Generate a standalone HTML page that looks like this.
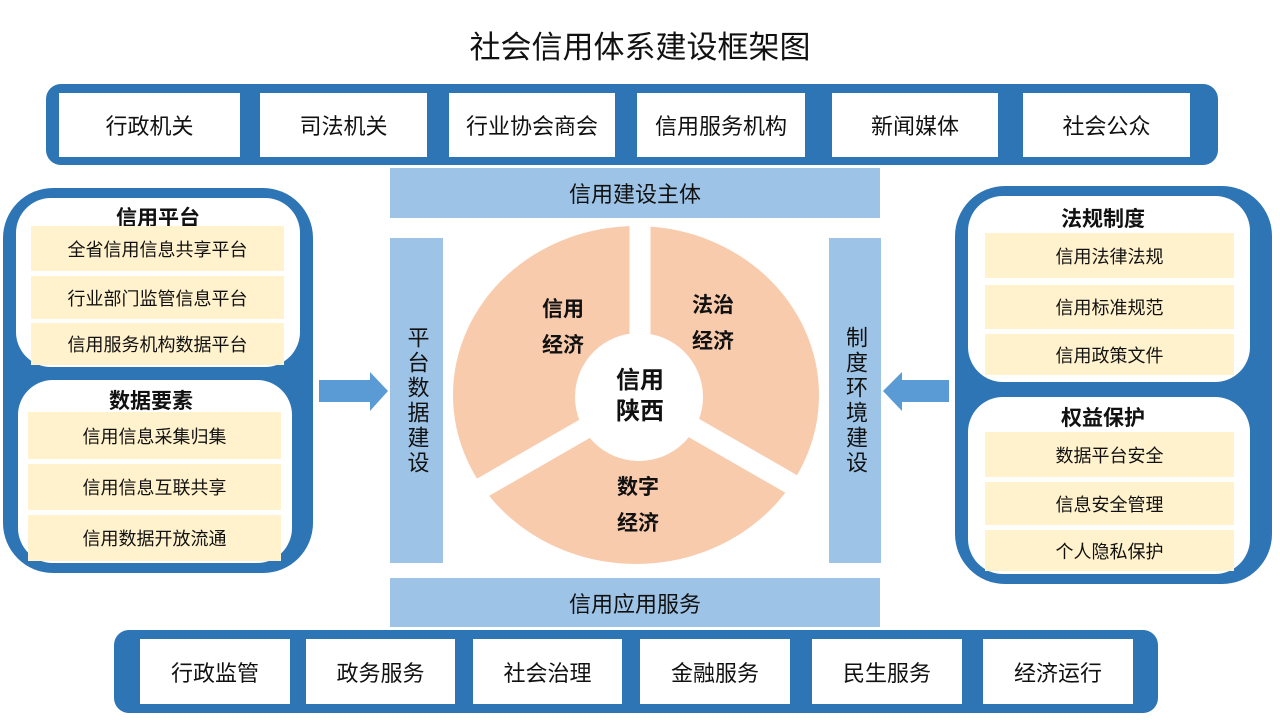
<!DOCTYPE html>
<html><head><meta charset="utf-8"><style>
*{margin:0;padding:0;box-sizing:border-box}
body{width:1280px;height:720px;background:#fff;position:relative;overflow:hidden;font-family:"Liberation Sans","Noto Sans CJK SC",sans-serif;color:#111}
.a{position:absolute}
.blue{background:#2E75B6}
.wb{background:#fff;display:flex;align-items:center;justify-content:center;font-size:22px}
.lb{background:#9DC3E6;display:flex;align-items:center;justify-content:center;font-size:22px}
.y{background:#FFF2CC;display:flex;align-items:center;justify-content:center;font-size:18px}
.t{font-size:21px;font-weight:bold;text-align:center}
.v{writing-mode:vertical-rl;text-orientation:upright;letter-spacing:3px}
</style></head><body>
<div class="a" style="left:0;top:22px;width:1280px;text-align:center;font-size:31px">社会信用体系建设框架图</div>

<div class="a blue" style="left:46px;top:84px;width:1172px;height:81px;border-radius:15px"></div>
<div class="a wb" style="left:59px;top:93px;width:181px;height:64px">行政机关</div>
<div class="a wb" style="left:260px;top:93px;width:167px;height:64px">司法机关</div>
<div class="a wb" style="left:449px;top:93px;width:166px;height:64px">行业协会商会</div>
<div class="a wb" style="left:637px;top:93px;width:168px;height:64px">信用服务机构</div>
<div class="a wb" style="left:832px;top:93px;width:166px;height:64px">新闻媒体</div>
<div class="a wb" style="left:1023px;top:93px;width:167px;height:64px">社会公众</div>

<div class="a blue" style="left:114px;top:630px;width:1044px;height:83px;border-radius:15px"></div>
<div class="a wb" style="left:140px;top:639px;width:150px;height:65px">行政监管</div>
<div class="a wb" style="left:306px;top:639px;width:149px;height:65px">政务服务</div>
<div class="a wb" style="left:473px;top:639px;width:149px;height:65px">社会治理</div>
<div class="a wb" style="left:640px;top:639px;width:150px;height:65px">金融服务</div>
<div class="a wb" style="left:812px;top:639px;width:150px;height:65px">民生服务</div>
<div class="a wb" style="left:983px;top:639px;width:150px;height:65px">经济运行</div>

<div class="a lb" style="left:390px;top:168px;width:490px;height:50px">信用建设主体</div>
<div class="a lb" style="left:390px;top:578px;width:490px;height:49px">信用应用服务</div>
<div class="a lb v" style="left:390px;top:238px;width:53px;height:325px">平台数据建设</div>
<div class="a lb v" style="left:829px;top:238px;width:52px;height:325px">制度环境建设</div>

<!-- left panel -->
<div class="a blue" style="left:3px;top:188px;width:310px;height:385px;border-radius:50px"></div>
<div class="a" style="left:16px;top:198px;width:284px;height:169px;background:#fff;border-radius:35px"></div>
<div class="a" style="left:18px;top:380px;width:274px;height:183px;background:#fff;border-radius:35px"></div>
<div class="a t" style="left:16px;top:202px;width:284px">信用平台</div>
<div class="a y" style="left:31px;top:226px;width:253px;height:45px">全省信用信息共享平台</div>
<div class="a y" style="left:31px;top:276px;width:253px;height:43px">行业部门监管信息平台</div>
<div class="a y" style="left:31px;top:323px;width:253px;height:42px">信用服务机构数据平台</div>
<div class="a t" style="left:18px;top:385px;width:266px">数据要素</div>
<div class="a y" style="left:28px;top:412px;width:253px;height:47px">信用信息采集归集</div>
<div class="a y" style="left:28px;top:464px;width:253px;height:46px">信用信息互联共享</div>
<div class="a y" style="left:28px;top:515px;width:253px;height:46px">信用数据开放流通</div>

<!-- right panel -->
<div class="a blue" style="left:955px;top:186px;width:317px;height:398px;border-radius:50px"></div>
<div class="a" style="left:968px;top:196px;width:282px;height:186px;background:#fff;border-radius:35px"></div>
<div class="a" style="left:968px;top:397px;width:282px;height:177px;background:#fff;border-radius:35px"></div>
<div class="a t" style="left:968px;top:203px;width:270px">法规制度</div>
<div class="a y" style="left:985px;top:233px;width:249px;height:45px">信用法律法规</div>
<div class="a y" style="left:985px;top:285px;width:249px;height:44px">信用标准规范</div>
<div class="a y" style="left:985px;top:334px;width:249px;height:41px">信用政策文件</div>
<div class="a t" style="left:968px;top:402px;width:270px">权益保护</div>
<div class="a y" style="left:985px;top:432px;width:249px;height:45px">数据平台安全</div>
<div class="a y" style="left:985px;top:482px;width:249px;height:43px">信息安全管理</div>
<div class="a y" style="left:985px;top:530px;width:249px;height:41px">个人隐私保护</div>

<svg class="a" style="left:0;top:0" width="1280" height="720">
<defs><clipPath id="c"><ellipse cx="636" cy="395" rx="184" ry="170"/></clipPath></defs>
<polygon points="319,380 370,380 370,372 388,391 370,411 370,402 319,402" fill="#5B9BD5"/>
<polygon points="949,380 902,380 902,372 883,391 902,411 902,402 949,402" fill="#5B9BD5"/>
<ellipse cx="636" cy="395" rx="183" ry="169" fill="#F8CBAD"/>
<g stroke="#fff" stroke-width="21" clip-path="url(#c)">
<line x1="640" y1="397" x2="640" y2="215"/>
<line x1="640" y1="397" x2="440" y2="512"/>
<line x1="640" y1="397" x2="840" y2="512"/>
</g>
<circle cx="639" cy="397" r="64" fill="#fff"/>
<g font-size="21" font-weight="bold" text-anchor="middle" fill="#111" font-family="Liberation Sans, Noto Sans CJK SC, sans-serif">
<text x="563" y="316">信用</text><text x="563" y="352">经济</text>
<text x="713" y="312">法治</text><text x="713" y="348">经济</text>
<text x="638" y="494">数字</text><text x="638" y="530">经济</text>
<text x="640" y="388" font-size="24">信用</text><text x="640" y="419" font-size="24">陕西</text>
</g>
</svg>
</body></html>
